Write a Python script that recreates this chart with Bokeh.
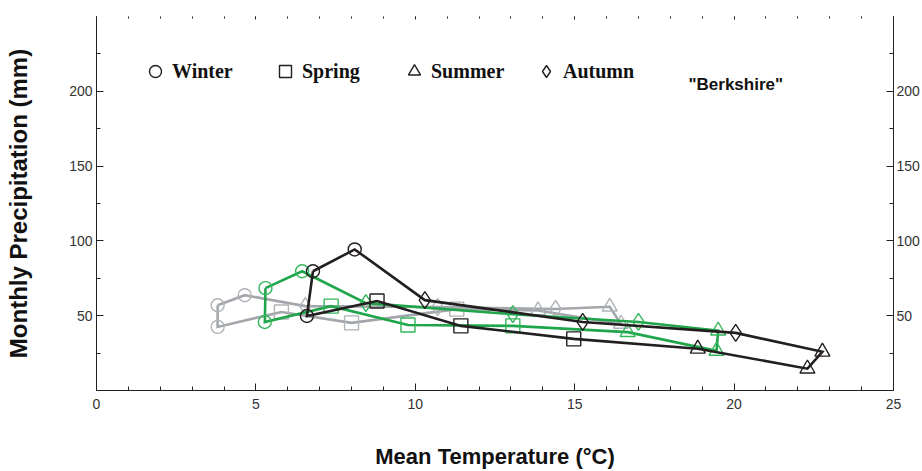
from bokeh.plotting import figure
from bokeh.models import (Range1d, LinearAxis, FixedTicker, Legend, LegendItem,
                          Label, ColumnDataSource)
from bokeh.embed import file_html
from bokeh.resources import INLINE

# ---------------- data (Jan .. Dec) ----------------
months = ["Jan", "Feb", "Mar", "Apr", "May", "Jun",
          "Jul", "Aug", "Sep", "Oct", "Nov", "Dec"]
seasons = ["Winter", "Winter", "Spring", "Spring", "Spring", "Summer",
           "Summer", "Summer", "Autumn", "Autumn", "Autumn", "Winter"]

gray_temp = [3.8, 3.8, 5.8, 8.0, 11.3, 13.85, 16.45, 16.1, 14.4, 10.7, 6.55, 4.65]
gray_prec = [57.0, 42.5, 52.5, 45.2, 54.4, 53.5, 44.5, 56.0, 54.5, 55.8, 56.4, 63.7]

green_temp = [5.3, 5.28, 7.36, 9.77, 13.06, 16.66, 19.45, 19.5, 17.0, 13.06, 8.45, 6.45]
green_prec = [68.4, 45.8, 56.4, 43.8, 43.2, 39.0, 26.5, 40.0, 45.8, 51.0, 58.4, 79.7]

black_temp = [6.79, 6.6, 8.8, 11.43, 14.97, 18.86, 22.3, 22.77, 20.05, 15.25, 10.3, 8.1]
black_prec = [79.7, 49.8, 59.8, 43.2, 34.5, 27.9, 14.6, 25.9, 38.5, 45.8, 60.4, 94.3]

x_ticks = [0, 5, 10, 15, 20, 25]
y_ticks = [50, 100, 150, 200]
y_minor = [25, 75, 125, 175, 225]

series = [
    ("gray", gray_temp, gray_prec, "#A3A7AB", "#B0B3B7"),
    ("green", green_temp, green_prec, "#1FA64A", "#34B65C"),
    ("black", black_temp, black_prec, "#231F20", "#231F20"),
]
markers = {"Winter": "circle", "Spring": "square", "Summer": "triangle", "Autumn": "diamond"}
msize = {"Winter": 13, "Spring": 14, "Summer": 15, "Autumn": 17}

# ---------------- figure ----------------
p = figure(width=922, height=471, output_backend="svg", toolbar_location=None,
           x_range=Range1d(0, 25), y_range=Range1d(0, 250),
           min_border_left=96, min_border_right=28, min_border_top=16,
           min_border_bottom=79, x_axis_location=None, y_axis_location=None)
p.xgrid.visible = False
p.ygrid.visible = False
p.outline_line_color = None
p.background_fill_color = "white"

tick_font = "Liberation Sans"
tick_color = "#333333"

def style_axis(ax):
    ax.axis_line_color = "#222222"
    ax.axis_line_width = 1
    ax.major_tick_in = 7
    ax.major_tick_out = 0
    ax.minor_tick_in = 4
    ax.minor_tick_out = 0
    ax.major_tick_line_color = "#222222"
    ax.minor_tick_line_color = "#222222"
    ax.major_label_text_font = tick_font
    ax.major_label_text_font_size = "14px"
    ax.major_label_text_color = tick_color

# bottom axis
xb = LinearAxis(ticker=FixedTicker(ticks=x_ticks, minor_ticks=list(range(0, 26))))
style_axis(xb)
xb.major_label_standoff = 8
xb.axis_label = "Mean Temperature (\u00b0C)"
xb.axis_label_text_font = "Liberation Sans"
xb.axis_label_text_font_style = "bold"
xb.axis_label_text_font_size = "22px"
xb.axis_label_text_color = "#111111"
xb.axis_label_standoff = 32
p.add_layout(xb, "below")

# top axis: only small ticks
xt = LinearAxis(ticker=FixedTicker(ticks=x_ticks, minor_ticks=list(range(0, 26))))
style_axis(xt)
xt.axis_line_color = None
xt.major_tick_in = 3
xt.minor_tick_in = 2
xt.major_label_text_color = None
p.add_layout(xt, "above")

# left axis
yl = LinearAxis(ticker=FixedTicker(ticks=y_ticks, minor_ticks=y_minor))
style_axis(yl)
yl.major_label_standoff = 4
yl.axis_label = "Monthly Precipitation (mm)"
yl.axis_label_text_font = "Liberation Sans"
yl.axis_label_text_font_style = "bold"
yl.axis_label_text_font_size = "24px"
yl.axis_label_text_color = "#111111"
yl.axis_label_standoff = 34
p.add_layout(yl, "left")

# right axis
yr = LinearAxis(ticker=FixedTicker(ticks=y_ticks, minor_ticks=y_minor))
style_axis(yr)
yr.major_label_standoff = 3
p.add_layout(yr, "right")

# ---------------- data lines & markers ----------------
legend_renderers = {}
for name, xs, ys, lcol, mcol in series:
    loop_x = list(xs) + [xs[0]]
    loop_y = list(ys) + [ys[0]]
    p.line(loop_x, loop_y, line_color=lcol, line_width=2.6, line_join="miter")
    for s in ["Winter", "Spring", "Summer", "Autumn"]:
        idx = [i for i, ss in enumerate(seasons) if ss == s]
        src = ColumnDataSource(dict(x=[xs[i] for i in idx], y=[ys[i] for i in idx]))
        r = p.scatter("x", "y", source=src, marker=markers[s], size=msize[s],
                      fill_color=None, line_color=mcol, line_width=1.4)
        if name == "black":
            legend_renderers[s] = r

# ---------------- legend (one per item, to place each precisely) ----------------
leg_pos = {"Winter": 44, "Spring": 174, "Summer": 303, "Autumn": 435}
for s in ["Winter", "Spring", "Summer", "Autumn"]:
    lg = Legend(items=[LegendItem(label=s, renderers=[legend_renderers[s]])],
                location=(leg_pos[s], 304), orientation="horizontal")
    lg.padding = 0
    lg.margin = 0
    lg.border_line_color = None
    lg.background_fill_alpha = 0
    lg.glyph_width = 30
    lg.glyph_height = 30
    lg.label_standoff = 2
    lg.label_text_font = "Liberation Serif"
    lg.label_text_font_style = "bold"
    lg.label_text_font_size = "20px"
    lg.label_text_color = "#111111"
    lg.label_height = 20
    p.add_layout(lg, "center")

p.add_layout(Label(x=18.57, y=204.5, text='"Berkshire"', text_font="Liberation Sans",
                   text_font_style="bold", text_font_size="17px",
                   text_color="#111111", text_baseline="middle"))

open("out.html", "w").write(file_html(p, INLINE))
